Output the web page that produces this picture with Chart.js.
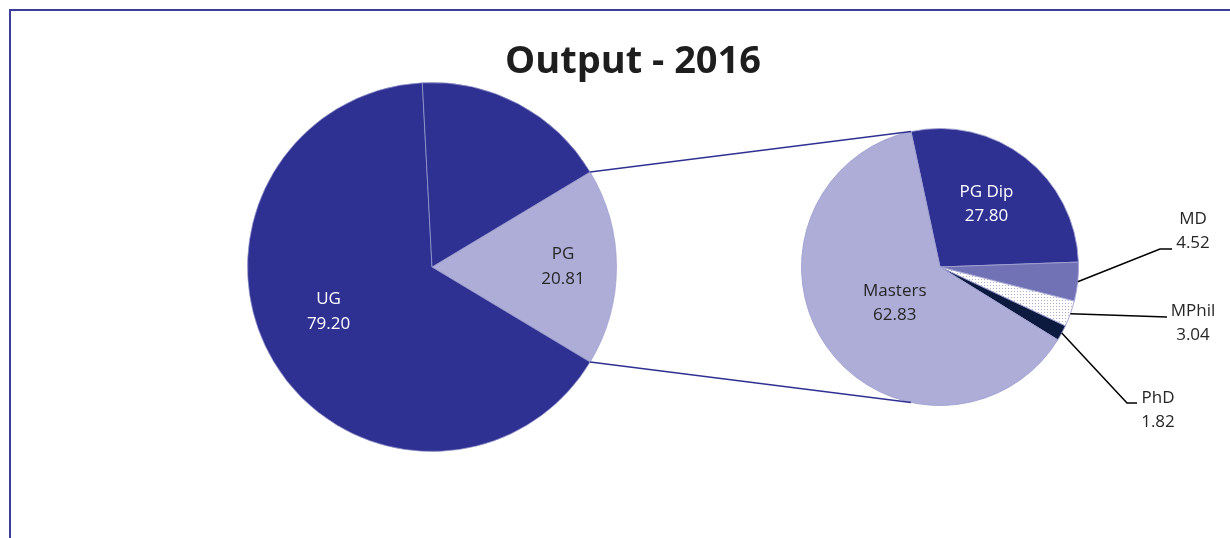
<!DOCTYPE html>
<html>
<head>
<meta charset="utf-8">
<script src="https://cdn.jsdelivr.net/npm/chart.js@4.4.1/dist/chart.umd.min.js"></script>
<style>
  html, body { margin: 0; padding: 0; background: #fff; }
  #wrap { position: relative; width: 1230px; height: 538px; overflow: hidden; }
  #frame { position: absolute; left: 9px; top: 9px; width: 1400px; height: 700px;
           border-left: 2px solid #3d3d9e; border-top: 2px solid #3d3d9e; }
  #leftBox { position: absolute; left: 247px; top: 82px; width: 370px; height: 370px; }
  #rightBox { position: absolute; left: 0; top: 0; width: 1230px; height: 538px; }
</style>
</head>
<body>
<div id="wrap">
  <div id="frame"></div>
  <div id="leftBox"><canvas id="leftPie"></canvas></div>
  <div id="rightBox"><canvas id="rightPie"></canvas></div>
</div>
<script>
// Output 2016 (%)
// Excel pie-of-pie: PG stays in the first pie as well (unlabelled, UG colour),
// the light slice is the "other" part that opens into the second pie
const leftCategories = ["PG", "UG", "PG"];
const leftValues = [20.81, 79.20, 20.81];

const rightCategories = ["PG Dip", "MD", "MPhil", "PhD", "Masters"];
const rightValues = [27.80, 4.52, 3.04, 1.82, 62.83];

const NAVY = "#2e3191";
const LILAC = "#adadd7";

function dotPattern() {
  const c = document.createElement("canvas");
  c.width = 3; c.height = 3;
  const g = c.getContext("2d");
  g.fillStyle = "#fff";
  g.fillRect(0, 0, 3, 3);
  g.fillStyle = "#aeb0d2";
  g.fillRect(0, 0, 1, 1);
  return g.createPattern(c, "repeat");
}

// zweizeilige Beschriftung: Kategorie + Wert
const sliceLabels = {
  id: "sliceLabels",
  afterDatasetsDraw(chart, args, opts) {
    const ctx = chart.ctx;
    const meta = chart.getDatasetMeta(0);
    const cats = chart.data.labels;
    const vals = chart.data.datasets[0].data;
    ctx.save();
    ctx.font = opts.font;
    ctx.textAlign = "center";
    ctx.textBaseline = "middle";
    meta.data.forEach((arc, i) => {
      const inside = opts.inside && opts.inside[i];
      const outside = opts.outside && opts.outside[i];
      let x, y;
      if (inside) {
        const a = (arc.startAngle + arc.endAngle) / 2 + inside.shift * Math.PI / 180;
        const r = arc.outerRadius * inside.frac;
        x = arc.x + r * Math.cos(a);
        y = arc.y + r * Math.sin(a);
        ctx.fillStyle = inside.color;
      } else if (outside) {
        const a = (arc.startAngle + arc.endAngle) / 2;
        ctx.strokeStyle = "#000";
        ctx.lineWidth = 1.5;
        ctx.beginPath();
        ctx.moveTo(arc.x + arc.outerRadius * Math.cos(a), arc.y + arc.outerRadius * Math.sin(a));
        ctx.lineTo(arc.x + outside.elbow[0], arc.y + outside.elbow[1]);
        ctx.lineTo(arc.x + outside.end[0], arc.y + outside.end[1]);
        ctx.stroke();
        x = arc.x + outside.text[0];
        y = arc.y + outside.text[1];
        ctx.fillStyle = "#262626";
      } else {
        return;
      }
      ctx.fillText(cats[i], x, y - opts.lineGap / 2);
      ctx.fillText(vals[i].toFixed(2), x, y + opts.lineGap / 2);
    });
    ctx.restore();
  }
};

// Verbindungslinien zwischen den beiden Kreisen + Titel
const pieConnectors = {
  id: "pieConnectors",
  afterDatasetsDraw(chart, args, opts) {
    const src = opts.from;
    const arc = src.getDatasetMeta(0).data[0];
    const a = src.canvas.getBoundingClientRect();
    const b = chart.canvas.getBoundingClientRect();
    const ox = a.left - b.left + arc.x, oy = a.top - b.top + arc.y;
    const R = arc.outerRadius;
    const dst = chart.getDatasetMeta(0).data[0];
    const r = dst.outerRadius;
    const ctx = chart.ctx;
    ctx.save();
    ctx.strokeStyle = NAVY;
    ctx.lineWidth = 1.5;
    ctx.beginPath();
    ctx.moveTo(ox + R * Math.cos(arc.startAngle), oy + R * Math.sin(arc.startAngle));
    ctx.lineTo(dst.x + r * Math.cos(dst.startAngle), dst.y + r * Math.sin(dst.startAngle));
    ctx.moveTo(ox + R * Math.cos(arc.endAngle), oy + R * Math.sin(arc.endAngle));
    ctx.lineTo(dst.x + r * Math.cos(-dst.startAngle), dst.y + r * Math.sin(-dst.startAngle));
    ctx.stroke();

    ctx.font = opts.titleFont;
    ctx.fillStyle = "#1e1e1e";
    ctx.textAlign = "center";
    ctx.textBaseline = "alphabetic";
    ctx.fillText(opts.title, opts.titleX, opts.titleY);
    ctx.restore();
  }
};

const total = leftValues.reduce((s, v) => s + v, 0);
const pgSweep = leftValues[0] / total * 360;

const leftChart = new Chart(document.getElementById("leftPie"), {
  type: "pie",
  plugins: [sliceLabels],
  data: {
    labels: leftCategories,
    datasets: [{
      data: leftValues,
      backgroundColor: [LILAC, NAVY, NAVY],
      borderColor: "rgba(160,160,210,0.7)",
      borderWidth: 1
    }]
  },
  options: {
    responsive: true,
    maintainAspectRatio: false,
    animation: false,
    rotation: 90 - pgSweep / 2,
    layout: { padding: 0 },
    plugins: {
      legend: { display: false },
      tooltip: { enabled: false },
      sliceLabels: {
        font: "17px 'Open Sans'",
        lineGap: 25,
        inside: {
          0: { frac: 0.71, shift: 0, color: "#262626" },
          1: { frac: 0.61, shift: 7.8, color: "#ffffff" }
        }
      }
    }
  }
});

new Chart(document.getElementById("rightPie"), {
  type: "pie",
  plugins: [sliceLabels, pieConnectors],
  data: {
    labels: rightCategories,
    datasets: [{
      data: rightValues,
      backgroundColor: [NAVY, "#7171b5", dotPattern(), "#0c1a40", LILAC],
      borderColor: "rgba(160,160,210,0.9)",
      borderWidth: 1
    }]
  },
  options: {
    responsive: true,
    maintainAspectRatio: false,
    animation: false,
    rotation: -12.1,
    layout: { padding: { left: 801, right: 151, top: 128, bottom: 132 } },
    plugins: {
      legend: { display: false },
      tooltip: { enabled: false },
      sliceLabels: {
        font: "17px 'Open Sans'",
        lineGap: 24,
        inside: {
          0: { frac: 0.565, shift: -1.5, color: "#ffffff" },
          4: { frac: 0.42, shift: -3.8, color: "#262626" }
        },
        outside: {
          1: { elbow: [220, -18], end: [232, -18], text: [253, -36] },
          2: { elbow: [227, 50], end: [227, 50], text: [253, 56] },
          3: { elbow: [187, 136], end: [197, 136], text: [218, 143] }
        }
      },
      pieConnectors: {
        from: leftChart,
        title: "Output - 2016",
        titleFont: "bold 38px 'Open Sans'",
        titleX: 633,
        titleY: 72.5
      }
    }
  }
});
</script>
</body>
</html>
